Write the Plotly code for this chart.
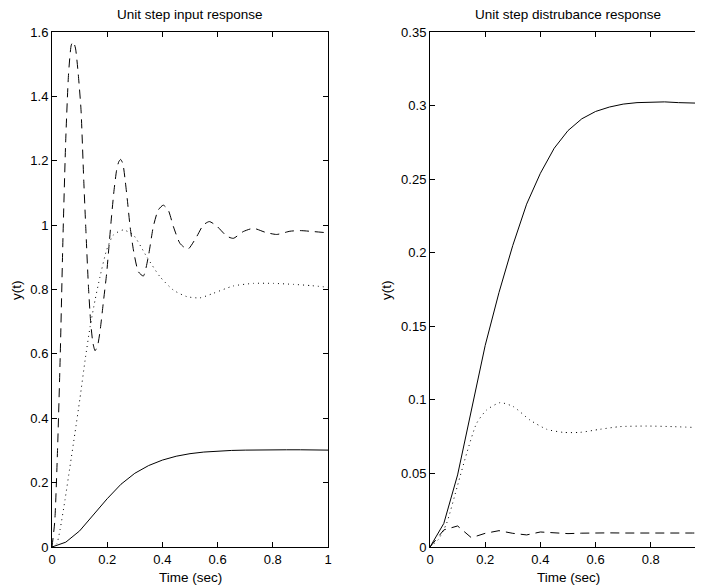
import plotly.graph_objects as go

# ---------------- data ----------------
# Left panel: unit step input response
in_dash_t = [0, 0.01, 0.02, 0.03, 0.04, 0.05, 0.06, 0.07, 0.077, 0.085, 0.095, 0.105, 0.115,
             0.123, 0.132, 0.14, 0.148, 0.156, 0.165, 0.174, 0.186, 0.198, 0.207, 0.216, 0.225,
             0.234, 0.242, 0.249, 0.257, 0.265, 0.273, 0.283, 0.295, 0.313, 0.331, 0.349, 0.367,
             0.385, 0.403, 0.421, 0.44, 0.464, 0.492, 0.524, 0.548, 0.57, 0.597, 0.633, 0.657,
             0.693, 0.73, 0.772, 0.814, 0.862, 0.899, 0.947, 1.0]
in_dash_y = [0, 0.08, 0.3, 0.6, 0.97, 1.27, 1.47, 1.56, 1.57, 1.55, 1.47, 1.36, 1.14,
             0.98, 0.81, 0.70, 0.635, 0.61, 0.625, 0.67, 0.76, 0.85, 0.94, 1.03, 1.11,
             1.17, 1.197, 1.204, 1.19, 1.14, 1.078, 0.995, 0.923, 0.855, 0.842, 0.902, 0.995,
             1.047, 1.062, 1.047, 0.995, 0.943, 0.925, 0.964, 1.0, 1.011, 0.997, 0.966, 0.959,
             0.98, 0.99, 0.978, 0.971, 0.981, 0.983, 0.98, 0.976]

in_dot_t = [0, 0.017, 0.029, 0.047, 0.065, 0.083, 0.101, 0.12, 0.138, 0.156, 0.174, 0.198,
            0.222, 0.258, 0.295, 0.343, 0.391, 0.44, 0.488, 0.536, 0.584, 0.657, 0.73, 0.802,
            0.874, 0.94, 1.0]
in_dot_y = [0, 0.01, 0.053, 0.146, 0.249, 0.353, 0.46, 0.581, 0.684, 0.767, 0.84, 0.923,
            0.969, 0.985, 0.969, 0.902, 0.84, 0.798, 0.778, 0.774, 0.788, 0.811, 0.819, 0.819,
            0.816, 0.812, 0.807]

in_solid_t = [0, 0.05, 0.1, 0.15, 0.2, 0.25, 0.3, 0.35, 0.4, 0.45, 0.5, 0.55, 0.6, 0.65,
              0.7, 0.75, 0.8, 0.85, 0.9, 0.95, 1.0]
in_solid_y = [0, 0.015, 0.05, 0.100, 0.150, 0.195, 0.229, 0.253, 0.270, 0.282, 0.290, 0.295,
              0.298, 0.300, 0.301, 0.302, 0.302, 0.302, 0.302, 0.3015, 0.301]

# Right panel: unit step disturbance response
dist_solid_t = [0, 0.05, 0.1, 0.15, 0.2, 0.25, 0.3, 0.35, 0.4, 0.45, 0.5, 0.55, 0.6, 0.65,
                0.7, 0.75, 0.8, 0.85, 0.9, 0.95, 1.0]
dist_solid_y = [0, 0.016, 0.049, 0.093, 0.137, 0.173, 0.205, 0.233, 0.254, 0.271, 0.283,
                0.291, 0.296, 0.299, 0.301, 0.302, 0.3025, 0.3025, 0.302, 0.3018, 0.3015]

dist_dot_t = [0, 0.03, 0.06, 0.1, 0.133, 0.169, 0.205, 0.254, 0.302, 0.362, 0.423, 0.483,
              0.543, 0.616, 0.688, 0.785, 0.882, 0.99]
dist_dot_y = [0, 0.005, 0.016, 0.042, 0.0637, 0.0841, 0.0931, 0.0981, 0.0954, 0.0863, 0.080,
              0.0779, 0.0779, 0.080, 0.0818, 0.0822, 0.0818, 0.081]

dist_dash_t = [0, 0.05, 0.1, 0.15, 0.2, 0.25, 0.3, 0.35, 0.4, 0.45, 0.5, 0.55, 0.6, 0.65,
               0.7, 0.75, 0.8, 0.85, 0.9, 0.95, 1.0]
dist_dash_y = [0, 0.0116, 0.0143, 0.0063, 0.0093, 0.0111, 0.0093, 0.0082, 0.0102, 0.0095,
               0.0091, 0.0094, 0.0097, 0.0096, 0.0095, 0.0096, 0.0096, 0.0095, 0.0096, 0.0095,
               0.0095]

left_yticks = [0, 0.2, 0.4, 0.6, 0.8, 1, 1.2, 1.4, 1.6]
left_yticklabels = ["0", "0.2", "0.4", "0.6", "0.8", "1", "1.2", "1.4", "1.6"]
right_yticks = [0, 0.05, 0.1, 0.15, 0.2, 0.25, 0.3, 0.35]
right_yticklabels = ["0", "0.05", "0.1", "0.15", "0.2", "0.25", "0.3", "0.35"]
xticks = [0, 0.2, 0.4, 0.6, 0.8, 1]
xticklabels = ["0", "0.2", "0.4", "0.6", "0.8", "1"]

titles = ["Unit step input response", "Unit step distrubance response"]
xlabel = "Time (sec)"
ylabel = "y(t)"

# ---------------- figure ----------------
# The page body adds an 8px margin, so the figure is laid out 8px up/left.
OFF = 8
W, H = 703 - OFF, 586 - OFF
FONT = "Liberation Sans, Arial, sans-serif"
DASH = "9px,6px"
DOT = "1px,4px"

def px_x(p):  # page pixel -> paper fraction
    return (p - OFF) / W

def px_y(p):
    return 1 - (p - OFF) / H

fig = go.Figure()

def add(t, y, dash, xa, ya, shape="linear"):
    fig.add_trace(go.Scatter(x=t, y=y, mode="lines", xaxis=xa, yaxis=ya, showlegend=False,
                             hoverinfo="skip",
                             line=dict(color="black", width=1, dash=dash, shape=shape,
                                       smoothing=0.6 if shape == "spline" else None)))

add(in_dash_t, in_dash_y, DASH, "x", "y", "spline")
add(in_dot_t, in_dot_y, DOT, "x", "y", "spline")
add(in_solid_t, in_solid_y, "solid", "x", "y")

add(dist_solid_t, dist_solid_y, "solid", "x2", "y2")
add(dist_dot_t, dist_dot_y, DOT, "x2", "y2", "spline")
add(dist_dash_t, dist_dash_y, DASH, "x2", "y2")
# helper for right-side tick marks of the cropped right panel
fig.add_trace(go.Scatter(x=[None], y=[None], xaxis="x2", yaxis="y3", showlegend=False,
                         hoverinfo="skip", mode="lines"))

y0, y1 = px_y(547), px_y(32)
L0, L1 = px_x(52), px_x(328)
R0, R1 = px_x(430), 1.0
xr_right = (703 - 430) / 276.0

axis_common = dict(showgrid=False, zeroline=False, ticks="inside", ticklen=5,
                   tickcolor="black", linecolor="black", linewidth=1, showline=True,
                   automargin=False,
                   tickfont=dict(family=FONT, size=13, color="black"))

fig.update_layout(
    width=W, height=H, margin=dict(l=0, r=0, t=0, b=0, autoexpand=False),
    paper_bgcolor="white", plot_bgcolor="white",
    xaxis=dict(domain=[L0, L1], range=[0, 1], anchor="y", mirror="ticks",
               tickvals=xticks, ticktext=xticklabels, **axis_common),
    yaxis=dict(domain=[y0, y1], range=[0, 1.6], anchor="x", mirror="ticks",
               tickvals=left_yticks, ticktext=left_yticklabels, **axis_common),
    xaxis2=dict(domain=[R0, R1], range=[0, xr_right], anchor="y2", mirror="ticks",
                tickvals=xticks, ticktext=xticklabels, **axis_common),
    yaxis2=dict(domain=[y0, y1], range=[0, 0.35], anchor="x2", mirror=False,
                tickvals=right_yticks, ticktext=right_yticklabels, **axis_common),
    yaxis3=dict(overlaying="y2", side="right", anchor="x2", range=[0, 0.35],
                showgrid=False, zeroline=False, showline=False, ticks="inside", ticklen=5,
                automargin=False,
                tickcolor="black", tickvals=right_yticks, showticklabels=False),
)

ann_font = dict(family=FONT, size=13.5, color="black")
left_cx = (L0 + L1) / 2
right_cx = px_x((430 + 706) / 2)
annotations = [
    dict(text=titles[0], x=left_cx, y=px_y(15), xref="paper", yref="paper",
         showarrow=False, font=ann_font, xanchor="center", yanchor="middle"),
    dict(text=titles[1], x=right_cx, y=px_y(15), xref="paper", yref="paper",
         showarrow=False, font=ann_font, xanchor="center", yanchor="middle"),
    dict(text=xlabel, x=left_cx, y=px_y(577), xref="paper", yref="paper",
         showarrow=False, font=ann_font, xanchor="center", yanchor="middle"),
    dict(text=xlabel, x=right_cx, y=px_y(577), xref="paper", yref="paper",
         showarrow=False, font=ann_font, xanchor="center", yanchor="middle"),
    dict(text=ylabel, x=px_x(17), y=px_y(290), xref="paper", yref="paper", textangle=-90,
         showarrow=False, font=ann_font, xanchor="center", yanchor="middle"),
    dict(text=ylabel, x=px_x(387), y=px_y(290), xref="paper", yref="paper", textangle=-90,
         showarrow=False, font=ann_font, xanchor="center", yanchor="middle"),
]
fig.update_layout(annotations=annotations)

fig.write_html("out.html")
